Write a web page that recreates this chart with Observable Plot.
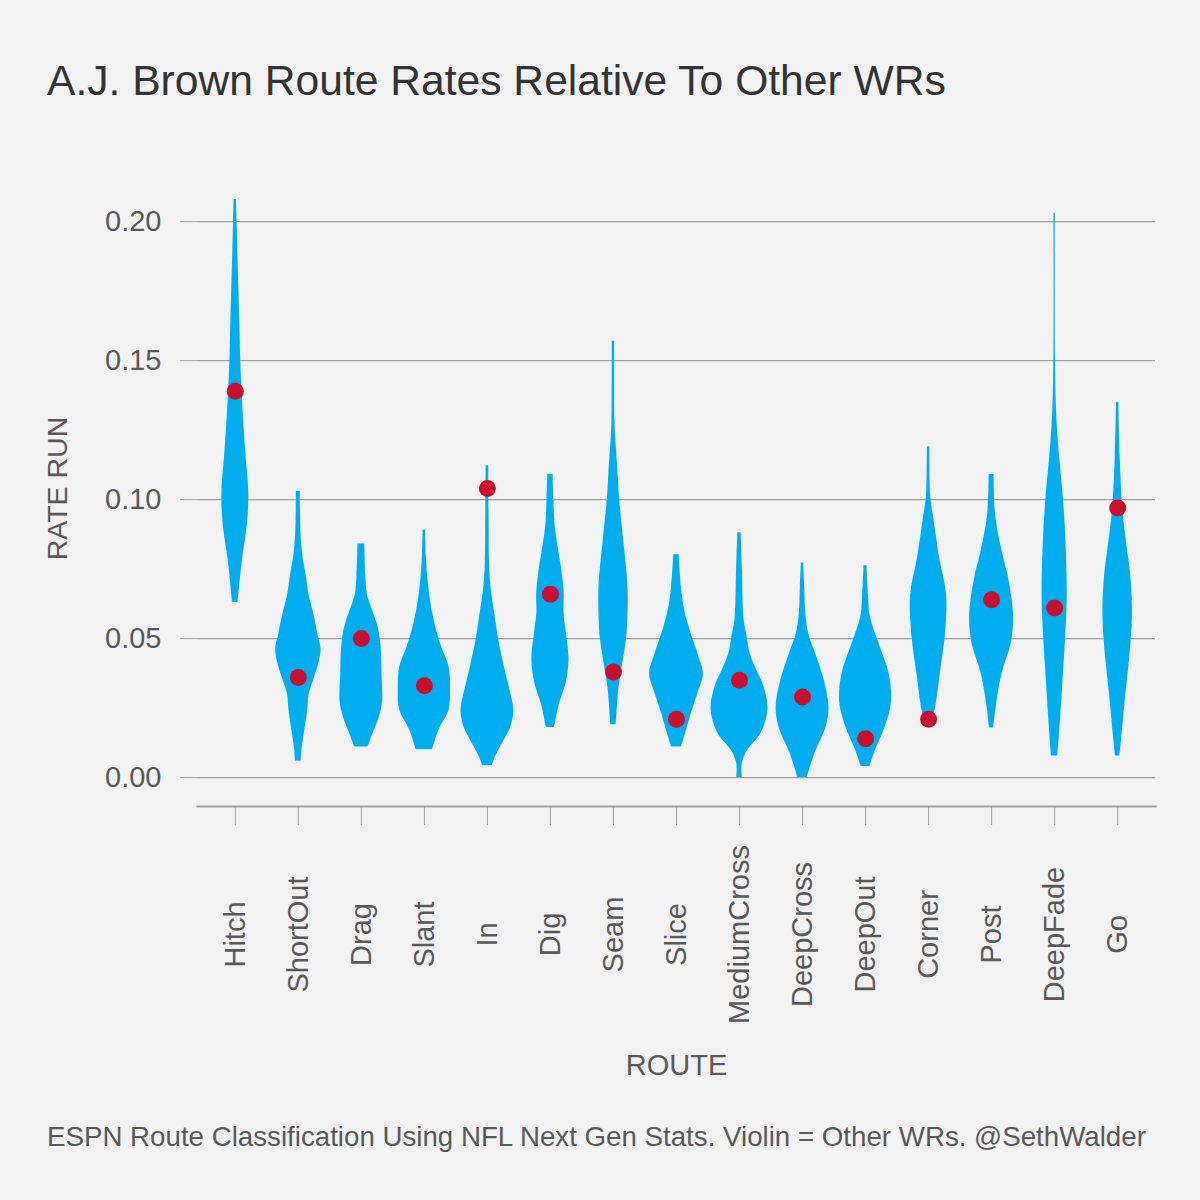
<!DOCTYPE html>
<html>
<head>
<meta charset="utf-8">
<script src="https://cdn.jsdelivr.net/npm/d3@7"></script>
<script src="https://cdn.jsdelivr.net/npm/@observablehq/plot@0.6"></script>
<style>
  html, body { margin: 0; padding: 0; background: #f2f2f2; }
  body { width: 1200px; height: 1200px; overflow: hidden; font-family: "Liberation Sans", Arial, Helvetica, sans-serif; }
  #title { height: 130px; box-sizing: border-box; padding: 55px 0 0 47px; font-size: 42.6px; line-height: 50px; color: #333333; white-space: nowrap; }
  #chart svg { display: block; }
  #caption { box-sizing: border-box; padding: 27px 0 0 47px; font-size: 27.7px; line-height: 30px; color: #595959; white-space: nowrap; }
</style>
</head>
<body>
<div id="title">A.J. Brown Route Rates Relative To Other WRs</div>
<div id="chart"></div>
<div id="caption">ESPN Route Classification Using NFL Next Gen Stats. Violin = Other WRs. @SethWalder</div>
<script>
// Routes (x categories)
const routes = ["Hitch", "ShortOut", "Drag", "Slant", "In", "Dig", "Seam", "Slice",
  "MediumCross", "DeepCross", "DeepOut", "Corner", "Post", "DeepFade", "Go"];

// A.J. Brown's route rate (red dots)
const ajBrownRate = [0.139, 0.036, 0.050, 0.033, 0.104, 0.066, 0.038, 0.021,
  0.035, 0.029, 0.014, 0.021, 0.064, 0.061, 0.097];

// y tick values
const yTicks = [0, 0.05, 0.10, 0.15, 0.20];

// Violin profiles for other WRs: rate levels and estimated density at each level
const hitchRate = [0.208, 0.200, 0.190, 0.175, 0.160, 0.150, 0.139, 0.127, 0.115, 0.104, 0.094, 0.086, 0.079, 0.071, 0.063];
const hitchDensity = [1.2, 1.8, 2.5, 3.7, 4.8, 5.5, 6.8, 8.7, 11, 13.5, 13, 10.5, 7.5, 5, 2.8];

const shortOutRate = [0.103, 0.095, 0.087, 0.080, 0.0726, 0.0655, 0.0584, 0.0513, 0.0463, 0.0413, 0.0356, 0.030, 0.0242, 0.0157, 0.010, 0.006];
const shortOutDensity = [2, 2.2, 2.8, 4.5, 8, 11, 16, 20, 23, 21, 16, 11, 9.5, 6, 3.7, 3];

const dragRate = [0.084, 0.0726, 0.0655, 0.0598, 0.0541, 0.047, 0.037, 0.027, 0.0214, 0.0157, 0.011];
const dragDensity = [3.5, 4.5, 6.3, 11.7, 17, 20, 21, 21.5, 18, 11.7, 6.7];

const slantRate = [0.089, 0.0798, 0.0726, 0.0641, 0.0556, 0.047, 0.0399, 0.0313, 0.0242, 0.0171, 0.010];
const slantDensity = [1.3, 2, 3.3, 6, 10.5, 17.5, 25, 26.5, 25, 15, 8.3];

const inRate = [0.1122, 0.0936, 0.0756, 0.0673, 0.060, 0.050, 0.0397, 0.0313, 0.0241, 0.0181, 0.0121, 0.0073, 0.0043];
const inDensity = [1.3, 1.7, 2.3, 4, 7, 11.3, 17.3, 23, 26.8, 23.7, 15, 8, 5];

const digRate = [0.1091, 0.0998, 0.0902, 0.0806, 0.0734, 0.0662, 0.059, 0.053, 0.0422, 0.0338, 0.0266, 0.018];
const digDensity = [2.7, 3.5, 4.8, 8.8, 12, 14, 13.8, 15.8, 18.8, 15.8, 9.2, 4.2];

const seamRate = [0.157, 0.150, 0.1286, 0.1226, 0.1106, 0.100, 0.0866, 0.0686, 0.0566, 0.050, 0.0386, 0.0326, 0.0266, 0.019];
const seamDensity = [1.2, 1.2, 1.5, 2.2, 4.5, 6.3, 10, 14.7, 14.5, 13.3, 8.3, 5.7, 4.2, 2.7];

const sliceRate = [0.0802, 0.0686, 0.0602, 0.0542, 0.0446, 0.0374, 0.0302, 0.023, 0.0158, 0.011];
const sliceDensity = [2.7, 5, 8.3, 12.7, 21.7, 27.3, 21.7, 15, 9.2, 5];

const mediumCrossRate = [0.0881, 0.0746, 0.0566, 0.0506, 0.0446, 0.0386, 0.0326, 0.0242, 0.0158, 0.0098, 0.005, 0.0];
const mediumCrossDensity = [1.7, 3, 4.7, 7.8, 10.8, 17.5, 25, 28.8, 21.7, 8.3, 2.8, 2.8];

const deepCrossRate = [0.0772, 0.0686, 0.059, 0.0518, 0.0446, 0.035, 0.0254, 0.0182, 0.0086, 0.0];
const deepCrossDensity = [1.2, 2.2, 3.3, 6.2, 13.3, 22, 26.8, 24, 12.5, 4.7];

const deepOutRate = [0.0762, 0.0655, 0.0584, 0.0513, 0.0442, 0.037, 0.027, 0.0185, 0.010, 0.004];
const deepOutDensity = [1.5, 3, 4.5, 10.5, 17.8, 24.2, 26.3, 20.3, 10.3, 4.5];

const cornerRate = [0.119, 0.101, 0.094, 0.0798, 0.0655, 0.0513, 0.037, 0.0242, 0.020];
const cornerDensity = [1.3, 2.2, 5, 10.8, 18.3, 17, 11.7, 6.7, 4];

const postRate = [0.109, 0.094, 0.0798, 0.0726, 0.0584, 0.0484, 0.037, 0.0242, 0.0178];
const postDensity = [2.5, 4.2, 11.7, 16.7, 22.3, 20, 10.3, 4.2, 2.2];

const deepFadeRate = [0.203, 0.151, 0.1296, 0.1154, 0.1011, 0.0869, 0.0655, 0.0513, 0.037, 0.0228, 0.0078];
const deepFadeDensity = [0.7, 0.8, 2.2, 5, 8.7, 11.2, 12.8, 11.3, 8.8, 6.3, 3.3];

const goRate = [0.135, 0.1154, 0.0972, 0.084, 0.0726, 0.0584, 0.0442, 0.030, 0.0157, 0.0078];
const goDensity = [1.2, 2.5, 5, 9.2, 13.3, 15, 12.5, 8.3, 4.5, 2.3];

const profiles = [
  [hitchRate, hitchDensity], [shortOutRate, shortOutDensity], [dragRate, dragDensity],
  [slantRate, slantDensity], [inRate, inDensity], [digRate, digDensity],
  [seamRate, seamDensity], [sliceRate, sliceDensity], [mediumCrossRate, mediumCrossDensity],
  [deepCrossRate, deepCrossDensity], [deepOutRate, deepOutDensity], [cornerRate, cornerDensity],
  [postRate, postDensity], [deepFadeRate, deepFadeDensity], [goRate, goDensity]
];

// largest density fills 0.45 of a category slot on each side
const maxDensity = d3.max(profiles, p => d3.max(p[1]));
const halfSlot = 0.45;

const violinRows = profiles.flatMap(([rates, dens], i) =>
  rates.map((r, j) => ({route: routes[i], i, rate: r, w: dens[j] / maxDensity * halfSlot})));

const dotRows = routes.map((route, i) => ({route, i, rate: ajBrownRate[i]}));

const textColor = "#595959";
const gridColor = "#a0a0a0";

const chart = Plot.plot({
  width: 1200,
  height: 965,
  marginLeft: 197,
  marginRight: 45,
  marginTop: 40,
  marginBottom: 289,
  style: {background: "transparent", fontFamily: "'Liberation Sans', Arial, Helvetica, sans-serif", color: textColor},
  x: {type: "linear", domain: [-0.6, routes.length - 1 + 0.6]},
  y: {domain: [-0.0104, 0.2184]},
  marks: [
    Plot.ruleY(yTicks, {stroke: gridColor, strokeWidth: 1.3}),
    Plot.frame({anchor: "bottom", stroke: gridColor, strokeWidth: 2.2}),
    Plot.axisY({ticks: yTicks, tickFormat: d3.format(".2f"), tickSize: 17, tickPadding: 19,
      fontSize: 29, stroke: gridColor, fill: textColor, label: null}),
    Plot.axisX({ticks: d3.range(routes.length), tickFormat: i => routes[i], tickSize: 19, tickPadding: 109,
      tickRotate: -90, textAnchor: "middle", lineAnchor: "middle", fontSize: 29,
      stroke: gridColor, fill: textColor, label: null}),
    Plot.areaX(violinRows, {z: "route", y: "rate", x1: d => d.i - d.w, x2: d => d.i + d.w,
      fill: "#00aeef", curve: "catmull-rom"}),
    Plot.dot(dotRows, {x: "i", y: "rate", r: 8.5, fill: "#c8102e", stroke: "none"}),
    Plot.text(["RATE RUN"], {text: d => d, frameAnchor: "left", dx: -140, rotate: -90,
      fontSize: 28.5, fill: textColor, lineAnchor: "middle", textAnchor: "middle"}),
    Plot.text(["ROUTE"], {text: d => d, frameAnchor: "bottom", dy: 259,
      fontSize: 29, fill: textColor, lineAnchor: "middle", textAnchor: "middle"})
  ]
});
document.getElementById("chart").appendChild(chart);
</script>
</body>
</html>
